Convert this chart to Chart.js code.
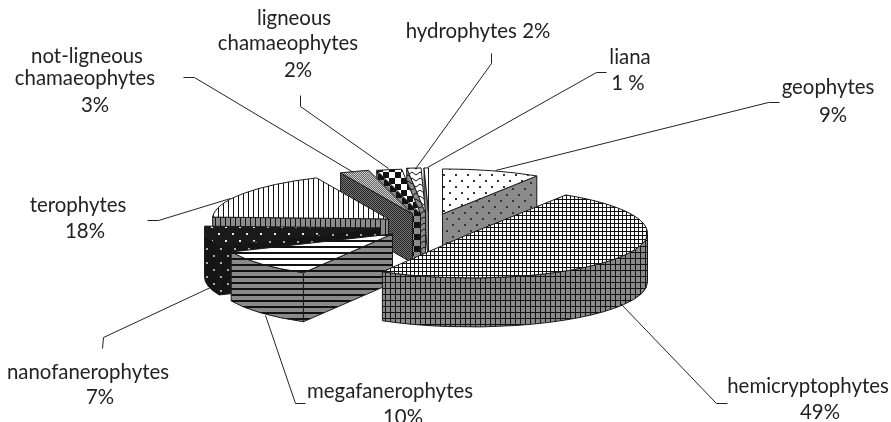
<!DOCTYPE html>
<html><head><meta charset="utf-8">
<style>html,body{margin:0;padding:0;background:#fff}#w{width:891px;height:422px;position:relative}</style>
<script src="https://cdn.jsdelivr.net/npm/chart.js@4"></script>
</head><body><div id="w"><canvas id="c" width="891" height="422"></canvas></div>
<script>
const categories = ['geophytes','hemicryptophytes','megafanerophytes','nanofanerophytes','terophytes','not-ligneous chamaeophytes','ligneous chamaeophytes','hydrophytes','liana'];
const shares = [9, 49.45, 10, 7.2, 17.65, 2.7, 2.3, 1.3, 0.4];
const drawOrder = [0, 8, 7, 6, 5, 4, 3, 2, 1];
const patternNames = ['dots','grid','hlines','darkdots','vlines','finedots','checker','waves','liana'];

const labelLines = [
  ['geophytes','9%'],['hemicryptophytes','49%'],['megafanerophytes','10%'],['nanofanerophytes','7%'],
  ['terophytes','18%'],['not-ligneous','chamaeophytes','3%'],['ligneous','chamaeophytes','2%'],['hydrophytes 2%'],['liana','1 %']
];
const labelSpots = [
  [[828,87],[833,115]],
  [[808,386],[820,412]],
  [[390,391],[403,417]],
  [[88,372],[100,397]],
  [[78,205],[85,231]],
  [[87,56],[85,78],[95,105]],
  [[294,18],[288,43],[298,70]],
  [[478,31]],
  [[630,57],[628,83]]
];
const leaders = [
  [[779,102],[768,102],[495,170]],
  [[727,403],[716,403],[620,303]],
  [[305,403],[295,403],[265,315]],
  [[102,348],[103,337],[210,287]],
  [[147,220],[158,220],[230,198]],
  [[183,77],[194,77],[353,172]],
  [[300,95],[300,106],[388,168]],
  [[491,53],[491,63],[416,167]],
  [[606,72],[596,72],[427,167]]
];

const centerX = 429, centerY = 226, radiusX = 176, squash = 45/176, depth = 49, explode = 0.28;
const shift = radiusX*explode;

function makePattern(name, wall){
  const bg = wall ? '#8a8a8a' : '#ffffff', ink = '#111111';
  const p = document.createElement('canvas'), g = p.getContext('2d');
  const size = (w,h)=>{p.width=w;p.height=h;g.fillStyle=bg;g.fillRect(0,0,w,h);g.fillStyle=ink;};
  if(name==='dots'){ size(12,12); g.fillStyle='#333'; g.fillRect(2,2,2,2); g.fillRect(8,8,2,2); }
  else if(name==='grid'){ size(wall?5:4,wall?6:4); g.fillRect(0,0,p.width,1); g.fillRect(0,0,1,p.height); }
  else if(name==='hlines'){ size(6,6); g.fillRect(0,0,6,2); }
  else if(name==='vlines'){ size(5,6); g.fillRect(0,0,1,6); }
  else if(name==='darkdots'){ size(14,14); g.fillStyle=wall?'#151515':'#1a1a1a'; g.fillRect(0,0,14,14);
    g.fillStyle=wall?'#aaa':'#eee'; g.fillRect(3,3,2,2); g.fillRect(10,10,2,2); }
  else if(name==='finedots'){ size(2,2); g.fillStyle=wall?'#777':'#ccc'; g.fillRect(0,0,2,2);
    g.fillStyle=wall?'#222':'#666'; g.fillRect(0,0,1,1); g.fillRect(1,1,1,1); }
  else if(name==='checker'){ size(12,12); g.fillRect(0,0,6,6); g.fillRect(6,6,6,6); }
  else if(name==='waves'){ size(8,6); g.strokeStyle=ink; g.lineWidth=1; g.beginPath(); g.moveTo(0,1); g.lineTo(4,4); g.lineTo(8,1); g.stroke(); }
  else { size(4,4); }
  return p;
}

const ctx = document.getElementById('c').getContext('2d');
function topPattern(name){
  const pat = ctx.createPattern(makePattern(name,false),'repeat');
  pat.setTransform(new DOMMatrix().scale(1,1/squash));
  return pat;
}
const tops = patternNames.map(topPattern);
const walls = patternNames.map(n=>ctx.createPattern(makePattern(n,true),'repeat'));

function geometry(arc){
  const p = arc.getProps(['startAngle','endAngle','outerRadius'],true);
  const mid = (p.startAngle+p.endAngle)/2;
  const x = Math.round(centerX+shift*Math.cos(mid)-arc.x)+arc.x;
  const y = Math.round(centerY+squash*shift*Math.sin(mid)-squash*arc.y)+squash*arc.y;
  return {a0:p.startAngle,a1:p.endAngle,r:p.outerRadius,x,y};
}
function stroke(c){ c.strokeStyle='#1a1a1a'; c.lineWidth=1; c.lineJoin='round'; c.stroke(); }
function drawWall(c,g,i){
  const ry=g.r*squash, pt=a=>[g.x+g.r*Math.cos(a), g.y+ry*Math.sin(a)];
  c.fillStyle=walls[i];
  const radial=(a)=>{ const q=pt(a); c.beginPath(); c.moveTo(g.x,g.y); c.lineTo(q[0],q[1]); c.lineTo(q[0],q[1]+depth); c.lineTo(g.x,g.y+depth); c.closePath(); c.fill(); stroke(c); };
  const s0=Math.sin(g.a0+Math.PI/2), s1=Math.sin(g.a1+Math.PI/2);
  if(s0<0) radial(g.a0);
  if(s1>0) radial(g.a1);
  const from=Math.max(g.a0,0), to=Math.min(g.a1,Math.PI);
  if(to>from){
    c.beginPath();
    c.ellipse(g.x,g.y,g.r,ry,0,from,to);
    c.ellipse(g.x,g.y+depth,g.r,ry,0,to,from,true);
    c.closePath(); c.fill(); stroke(c);
  }
}
function drawOutline(c,g){
  const ry=g.r*squash;
  c.beginPath(); c.moveTo(g.x,g.y);
  c.ellipse(g.x,g.y,g.r,ry,0,g.a0,g.a1);
  c.closePath(); stroke(c);
}
const pie3d = {
  id:'pie3d',
  beforeDatasetsDraw(chart){
    const c=chart.ctx, arcs=chart.getDatasetMeta(0).data;
    drawOrder.forEach(i=>{
      const arc=arcs[i], g=geometry(arc);
      drawWall(c,g,i);
      c.save();
      c.imageSmoothingEnabled=false;
      c.translate(g.x,g.y); c.scale(1,squash); c.translate(-arc.x,-arc.y);
      arc.draw(c);
      c.restore();
      drawOutline(c,g);
    });
    return false;
  },
  afterDraw(chart){
    const c=chart.ctx;
    c.save();
    c.strokeStyle='#222'; c.lineWidth=1;
    leaders.forEach(l=>{c.beginPath();l.forEach((p,j)=>j?c.lineTo(p[0]+.5,p[1]+.5):c.moveTo(p[0]+.5,p[1]+.5));c.stroke();});
    c.fillStyle='#222'; c.font='20.4px Lato, Carlito, sans-serif'; c.textAlign='center'; c.textBaseline='middle';
    labelLines.forEach((ls,i)=>ls.forEach((t,j)=>c.fillText(t,labelSpots[i][j][0],labelSpots[i][j][1])));
    c.restore();
  }
};
new Chart(ctx,{
  type:'pie',
  data:{labels:categories,datasets:[{data:shares,backgroundColor:tops,borderWidth:0,clip:false}]},
  options:{responsive:false,animation:false,radius:radiusX,
    plugins:{legend:{display:false},tooltip:{enabled:false}},layout:{padding:0}},
  plugins:[pie3d]
});
</script></body></html>
